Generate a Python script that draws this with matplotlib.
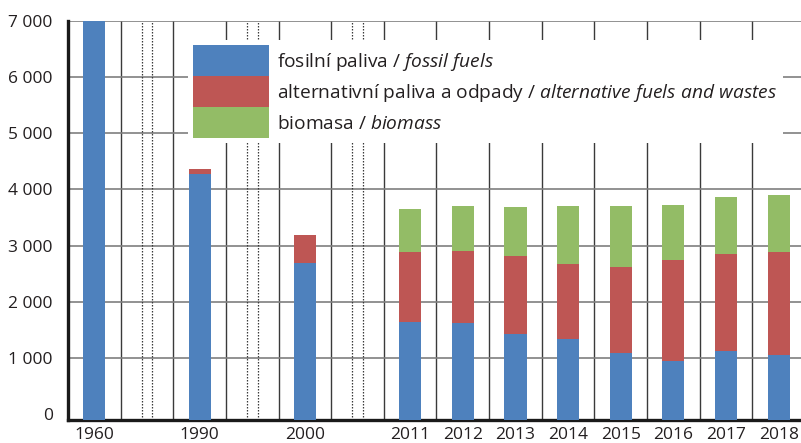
import numpy as np
import matplotlib
matplotlib.use("Agg")
import matplotlib.pyplot as plt
from matplotlib.patches import Patch


# =========================
# Data
# =========================

YEARS = ["1960", "1990", "2000", "2011", "2012", "2013", "2014",
         "2015", "2016", "2017", "2018"]

# years after which the time axis is broken (an empty slot follows)
BREAK_AFTER = ["1960", "1990", "2000"]

FOSSIL = [7000, 4280, 2690, 1650, 1625, 1435, 1340, 1090, 950, 1125, 1055]
ALTERNATIVE = [0, 85, 500, 1240, 1280, 1380, 1335, 1530, 1795, 1725, 1835]
BIOMASS = [0, 0, 0, 765, 800, 870, 1030, 1085, 980, 1015, 1010]

LABELS = [
    "fosilní paliva / $\\it{fossil\\ fuels}$",
    "alternativní paliva a odpady / $\\it{alternative\\ fuels\\ and\\ wastes}$",
    "biomasa / $\\it{biomass}$",
]

Y_TICKS = [0, 1000, 2000, 3000, 4000, 5000, 6000, 7000]
Y_MIN = -100
Y_MAX = 7000

COLORS = ["#4e81bd", "#be5654", "#93bc66"]
TEXT_COLOR = "#231f20"

FONT = "Open Sans"


# =========================
# Style
# =========================

plt.rcParams["font.family"] = [FONT, "DejaVu Sans"]
plt.rcParams["mathtext.fontset"] = "custom"
plt.rcParams["mathtext.rm"] = FONT
plt.rcParams["mathtext.it"] = FONT + ":italic"


def slot_positions(years, breaks):
    """Each year gets one slot, a break adds an empty slot after it."""
    positions = []
    pos = 0
    for year in years:
        positions.append(pos)
        pos += 2 if year in breaks else 1
    return np.array(positions), pos


def main():
    x, n_slots = slot_positions(YEARS, BREAK_AFTER)
    gap_slots = [p + 1 for p, y in zip(x, YEARS) if y in BREAK_AFTER]

    fossil = np.array(FOSSIL, dtype=float)
    alt = np.array(ALTERNATIVE, dtype=float)
    bio = np.array(BIOMASS, dtype=float)

    fig = plt.figure(figsize=(8.01, 4.43), dpi=100)
    W, H = 801, 443
    ax = fig.add_axes([68 / W, 23 / H, 737 / W, 399.3 / H])

    bar_w = 0.42
    # bars stand on the axis floor
    ax.bar(x, fossil - Y_MIN, bottom=Y_MIN, width=bar_w, color=COLORS[0],
           label=LABELS[0], zorder=3)
    ax.bar(x, alt, bottom=fossil, width=bar_w, color=COLORS[1],
           label=LABELS[1], zorder=3)
    ax.bar(x, bio, bottom=fossil + alt, width=bar_w, color=COLORS[2],
           label=LABELS[2], zorder=3)

    ax.set_xlim(-0.5, n_slots - 0.5)
    ax.set_ylim(Y_MIN, Y_MAX)

    # y axis
    ax.set_yticks(Y_TICKS)
    ax.set_yticklabels([f"{v:,}".replace(",", " ") for v in Y_TICKS])
    ax.yaxis.grid(True, color="#7f7f7f", linewidth=1.2)
    ax.get_ygridlines()[0].set_visible(False)

    # x axis: labels under the bars, grid lines between slots
    ax.set_xticks(x)
    ax.set_xticklabels(YEARS)
    ax.set_xticks(np.arange(0.5, n_slots - 0.5, 1.0), minor=True)
    ax.xaxis.grid(True, which="minor", color="#3a3a3a", linewidth=1.0)
    ax.xaxis.grid(False, which="major")

    # dotted double lines marking the breaks
    for g in gap_slots:
        for dx in (-0.1, 0.1):
            ax.axvline(g + dx, color="#3a3a3a", linestyle=(0, (1.2, 1.2)),
                       linewidth=0.9, zorder=1)

    ax.set_axisbelow(True)

    ax.tick_params(axis="both", which="both", length=0, colors=TEXT_COLOR,
                   labelsize=12.5)
    ax.tick_params(axis="y", pad=11)
    ax.tick_params(axis="x", pad=5)

    for side in ["top", "right"]:
        ax.spines[side].set_visible(False)
    for side in ["left", "bottom"]:
        ax.spines[side].set_linewidth(2.4)
        ax.spines[side].set_color("#1a1a1a")

    handles = [Patch(facecolor=c, edgecolor="none") for c in COLORS]
    leg = ax.legend(handles, LABELS, loc="upper left",
                    bbox_to_anchor=(0.163, 0.952), borderaxespad=0,
                    fontsize=13.8, frameon=True, fancybox=False,
                    framealpha=1, edgecolor="white", labelspacing=0,
                    handlelength=3.96, handleheight=2.11, handletextpad=0.42,
                    borderpad=0.27, labelcolor=TEXT_COLOR)
    leg.get_frame().set_linewidth(0)

    fig.savefig("out.png", dpi=100)


if __name__ == "__main__":
    main()
